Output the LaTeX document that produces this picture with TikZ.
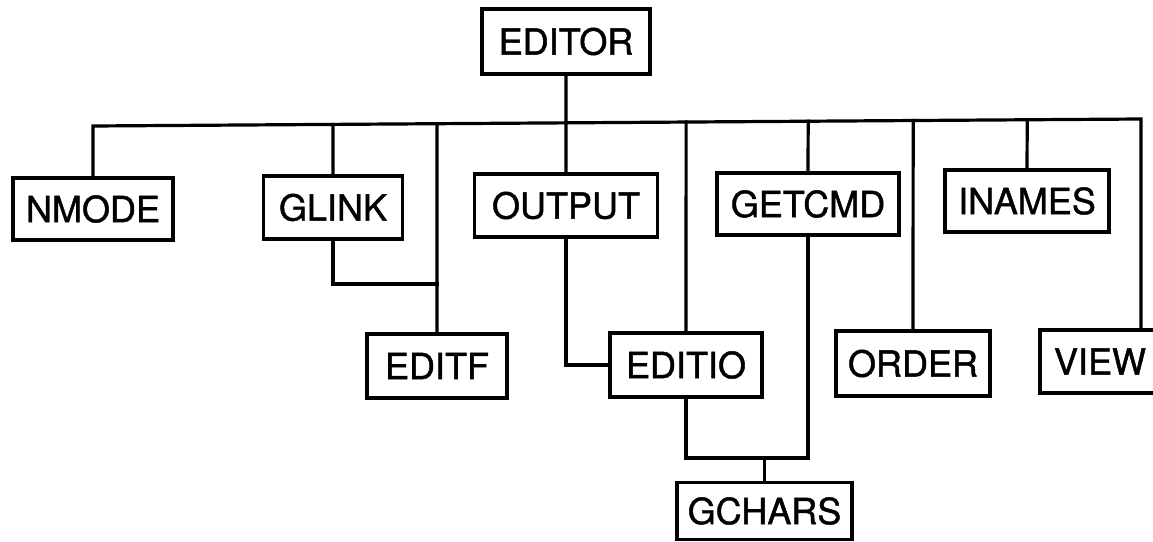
\documentclass[tikz,border=0pt]{standalone}
\usepackage{fontspec}
\setmainfont{TeX Gyre Heros}[FakeBold=1.2]
\begin{document}
\begin{tikzpicture}[x=1pt,y=-1pt,
  line width=3.5pt,
  module/.style={draw, line width=3.5pt, inner sep=0pt, fill=white,
    font=\fontsize{36}{36}\selectfont},
  conn/.style={draw, line width=3.2pt, line join=miter, line cap=rect}]
\useasboundingbox (0,0) rectangle (1153,541);
\clip (0,0) rectangle (1153,541);

% modules
\node[module, minimum width=168pt, minimum height=65pt] (editor) at (566,41.5) {EDITOR};
\node[module, minimum width=160pt, minimum height=62pt] (nmode)  at (93,209)   {NMODE};
\node[module, minimum width=139pt, minimum height=63pt] (glink)  at (333,207.5) {GLINK};
\node[module, minimum width=183pt, minimum height=63pt] (output) at (566,205.5) {OUTPUT};
\node[module, minimum width=182pt, minimum height=62pt] (getcmd) at (808,204)  {GETCMD};
\node[module, minimum width=164pt, minimum height=62pt] (inames) at (1027,201)  {INAMES};
\node[module, minimum width=140pt, minimum height=64pt] (editf)  at (437,366)  {EDITF};
\node[module, minimum width=152pt, minimum height=64pt] (editio) at (686,365)  {EDITIO};
\node[module, minimum width=154pt, minimum height=65pt] (order)  at (913,363.5) {ORDER};
\node[module, minimum width=120pt, minimum height=63pt] (view)   at (1100,361.5) {VIEW};
\node[module, minimum width=175pt, minimum height=57pt] (gchars) at (764.5,511) {GCHARS};

% main bus under EDITOR
\coordinate (busL) at (93,126);
\coordinate (busR) at (1141,119);
\coordinate (glinkJ) at (437,284);
\coordinate (charsJ) at (764.5,458);

\draw[conn] (nmode.north) -- (busL) -- (busR) -- (busR |- view.north);
\draw[conn] (editor.south) -- (intersection of busL--busR and editor.south--output.north);
\draw[conn] (output.north) -- (intersection of busL--busR and editor.south--output.north);
\draw[conn] (glink.north) -- (intersection of busL--busR and glink.north--glink.south);
\draw[conn] (editf.north) -- (intersection of busL--busR and editf.north--editf.center);
\draw[conn] (editio.north) -- (intersection of busL--busR and editio.north--editio.center);
\draw[conn] (getcmd.north) -- (intersection of busL--busR and getcmd.north--getcmd.south);
\draw[conn] (order.north) -- (intersection of busL--busR and order.north--order.center);
\draw[conn] (inames.north) -- (intersection of busL--busR and inames.north--inames.south);

% second-level calls
\draw[conn] (glink.south) |- (glinkJ);
\draw[conn] (output.south) |- (editio.west);
\draw[conn] (editio.south) |- (charsJ) -| (getcmd.south);
\draw[conn] (charsJ) -- (gchars.north);
\end{tikzpicture}
\end{document}
